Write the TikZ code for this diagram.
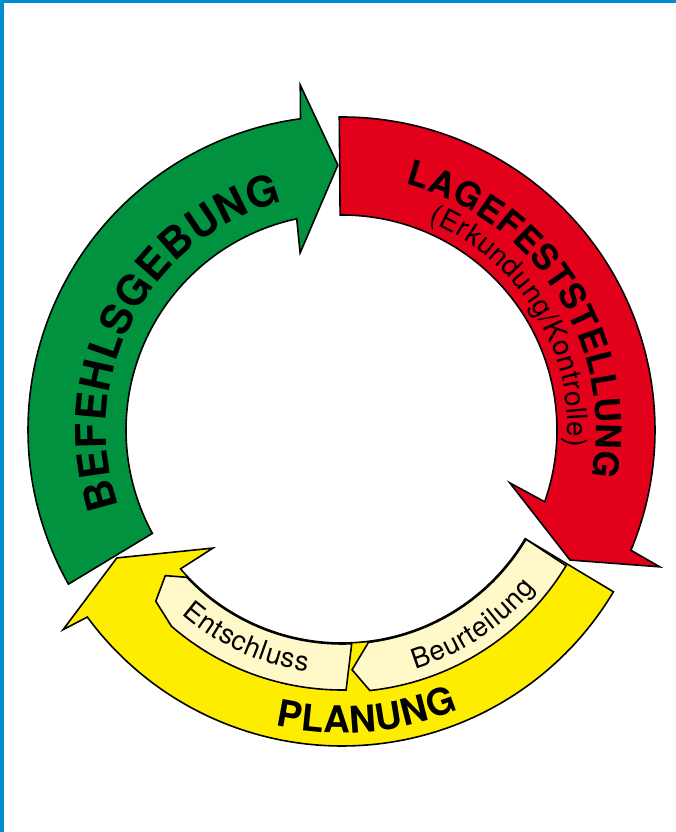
\documentclass[tikz,border=0pt]{standalone}
\usepackage{fontspec}
\setmainfont{TeX Gyre Heros}
\usetikzlibrary{decorations.text}
\definecolor{kreisgruen}{RGB}{0,146,63}
\definecolor{kreisrot}{RGB}{226,0,26}
\definecolor{kreisgelb}{RGB}{255,237,0}
\definecolor{kreiscreme}{RGB}{255,248,200}
\definecolor{rahmenblau}{RGB}{0,140,205}
\newcommand\phasefont{\fontsize{42}{42}\selectfont\bfseries}
\newcommand\lagefont{\fontsize{35}{35}\selectfont\bfseries}
\newcommand\planfont{\fontsize{37}{37}\selectfont\bfseries}
\newcommand\erkfont{\fontsize{28}{28}\selectfont}
\newcommand\schrittfont{\fontsize{27.5}{27.5}\selectfont}
\begin{document}
\begin{tikzpicture}[x=1pt,y=1pt,line join=miter,
  phase/.style={draw=black,line width=1.6pt},
  ringtext/.style={decorate,decoration={text along path,text align=fit to path,text={#1}}}]

 \useasboundingbox (0,0) rectangle (676,832);
 \fill[rahmenblau] (0,828.5) rectangle (676,832);
 \fill[rahmenblau] (0,0) rectangle (3.5,832);

 \begin{scope}[shift={(342,402)}]
  \draw[phase,fill=kreisgruen] (209.4:314) arc[start angle=209.4,end angle=97.6,radius=314]
    -- (96.9:347.5) -- (90.9:265) -- (103.3:182) -- (102.1:216)
    arc[start angle=102.1,end angle=208.6,radius=216] -- cycle;
  \draw[phase,fill=kreisrot] (90.5:313) arc[start angle=90.5,end angle=-22.6,radius=313]
    -- (-23.3:346) -- (-29.7:262.5) -- (-17.5:176) -- (-19.5:215)
    arc[start angle=-19.5,end angle=90.5,radius=215] -- cycle;
  \draw[phase,fill=kreisgelb] (-30.8:316) arc[start angle=-30.8,end angle=-143.7,radius=316]
    -- (-144.4:343) -- (-150.4:259) -- (-137.55:175) -- (-139.3:213)
    arc[start angle=-139.3,end angle=-30.7,radius=213] -- cycle;

  \draw[phase,fill=kreiscreme] (219.5:229) -- (223.5:214) arc[start angle=223.5,end angle=272.6,radius=214]
    -- (270.9:260) arc[start angle=270.9,end angle=229,radius=260] -- (222.6:253) -- cycle;
  \draw[phase,fill=kreiscreme] (276.9:215) -- (272.4:240) -- (276.1:262)
    arc[start angle=276.1,end angle=328.8,radius=262] -- (329.3:214)
    arc[start angle=329.3,end angle=276.9,radius=214] -- cycle;

  \path[ringtext={|\phasefont|BEFEHLSGEBUNG}] (199:236) arc[start angle=199,end angle=104.5,radius=236];
  \path[ringtext={|\lagefont|LAGEFESTSTELLUNG}] (75.5:254) arc[start angle=75.5,end angle=-10.5,radius=254];
  \path[ringtext={|\erkfont|(Erkundung/Kontrolle)}] (67.5:226) arc[start angle=67.5,end angle=-4.3,radius=226];
  \path[ringtext={|\planfont|PLANUNG}] (257.3:303) arc[start angle=257.3,end angle=292.5,radius=303];
  \path[ringtext={|\schrittfont|Entschluss}] (229:244) arc[start angle=229,end angle=261.8,radius=244];
  \path[ringtext={|\schrittfont|Beurteilung}] (287:250) arc[start angle=287,end angle=320.8,radius=250];
 \end{scope}

\end{tikzpicture}
\end{document}
